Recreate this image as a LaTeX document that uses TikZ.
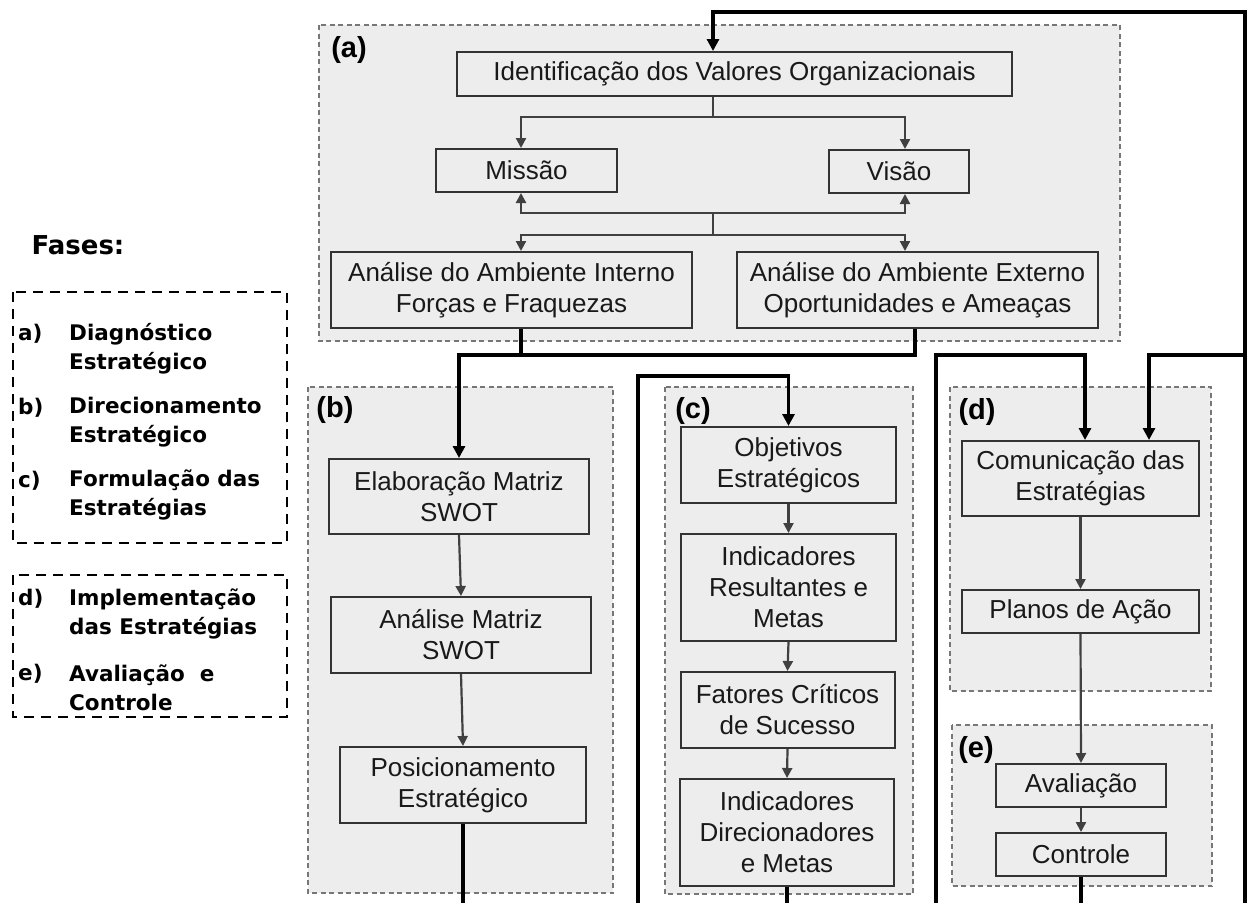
\documentclass[tikz,border=0pt]{standalone}
\usepackage{fontspec}
\setmainfont{Liberation Sans}
\newfontfamily\fontelegenda{DejaVu Sans}
\usetikzlibrary{arrows.meta}
\definecolor{fundo}{HTML}{EDEDED}
\definecolor{borda}{HTML}{333333}
\definecolor{setacinza}{HTML}{404040}
\definecolor{tracejado}{HTML}{777777}

\begin{document}
\begin{tikzpicture}[x=1pt, y=-1pt, line join=miter,
  caixa/.style={draw=borda, line width=2pt, fill=fundo, align=center, inner sep=0pt,
    text=black!90, font=\fontsize{26}{31}\selectfont},
  grupo/.style={draw=tracejado, line width=1.5pt, dash pattern=on 5pt off 3.5pt, fill=fundo},
  rotulo/.style={font=\bfseries\fontsize{29}{30}\selectfont, inner sep=0pt},
  fio/.style={draw=setacinza, line width=2.2pt},
  seta/.style={fio, -{Triangle[length=10pt,width=10pt]}},
  grosso/.style={draw=black, line width=3.5pt},
  grossoseta/.style={grosso, -{Triangle[length=12pt,width=12pt]}},
  legenda/.style={font=\fontelegenda\bfseries\fontsize{21.5}{29}\selectfont,
    align=left, inner sep=0pt, anchor=west},
  moldura/.style={draw=black, line width=2.5pt, dash pattern=on 10pt off 7pt}]

  \useasboundingbox (0,0) rectangle (1249,903);

  % legenda
  \node[font=\fontelegenda\bfseries\fontsize{26}{30}\selectfont, inner sep=0pt] (fases) at (78,245) {Fases:};
  \draw[moldura] (13,292) rectangle (287,543);
  \draw[moldura] (13,575) rectangle (287,717);
  \node[legenda] (la) at (18,334) {a)};
  \node[legenda] (ta) at (69,348.5) {Diagnóstico\\Estratégico};
  \node[legenda] (lb) at (18,408) {b)};
  \node[legenda] (tb) at (69,422) {Direcionamento\\Estratégico};
  \node[legenda] (lc) at (18,481) {c)};
  \node[legenda] (tc) at (69,495) {Formulação das\\Estratégias};
  \node[legenda] (ld) at (18,599) {d)};
  \node[legenda] (td) at (69,613.5) {Implementação\\das Estratégias};
  \node[legenda] (le) at (18,674) {e)};
  \node[legenda] (te) at (69,687.5) {Avaliação\ \ e\\Controle};

  % grupos
  \draw[grupo] (319,25) rectangle (1120,341);
  \draw[grupo] (308,387) rectangle (613,893);
  \draw[grupo] (665,387) rectangle (913,894);
  \draw[grupo] (950,387) rectangle (1211,691);
  \draw[grupo] (952,725) rectangle (1212,886);
  \node[rotulo] (ga) at (349,50) {(a)};
  \node[rotulo] (gb) at (335,410) {(b)};
  \node[rotulo] (gc) at (693,411) {(c)};
  \node[rotulo] (gd) at (977,412) {(d)};
  \node[rotulo] (ge) at (976,750) {(e)};

  % (a) diagnostico
  \node[caixa, minimum width=555pt, minimum height=44pt] (iden) at (734.5,74) {Identificação dos Valores Organizacionais};
  \node[caixa, minimum width=181pt, minimum height=43pt] (missao) at (526.5,170.5) {Missão};
  \node[caixa, minimum width=140pt, minimum height=43pt] (visao) at (899,171.5) {Visão};
  \node[caixa, minimum width=361pt, minimum height=76pt] (interno) at (511.5,290) {Análise do Ambiente Interno\\Forças e Fraquezas};
  \node[caixa, minimum width=361pt, minimum height=76pt] (externo) at (917.5,290) {Análise do Ambiente Externo\\Oportunidades e Ameaças};

  % (b) direcionamento
  \node[caixa, minimum width=260pt, minimum height=75pt] (elab) at (459,496.5) {Elaboração Matriz\\SWOT};
  \node[caixa, minimum width=260pt, minimum height=76pt] (anmat) at (461,635) {Análise Matriz\\SWOT};
  \node[caixa, minimum width=246pt, minimum height=76pt] (posic) at (463,785) {Posicionamento\\Estratégico};

  % (c) formulacao
  \node[caixa, minimum width=215pt, minimum height=76pt] (objet) at (788.5,465) {Objetivos\\Estratégicos};
  \node[caixa, minimum width=215pt, minimum height=107pt] (indres) at (788.5,587.5) {Indicadores\\Resultantes e\\Metas};
  \node[caixa, minimum width=214pt, minimum height=76pt] (fatores) at (787.5,710) {Fatores Críticos\\de Sucesso};
  \node[caixa, minimum width=214pt, minimum height=107pt] (inddir) at (787,832.5) {Indicadores\\Direcionadores\\e Metas};

  % (d) implementacao e (e) avaliacao
  \node[caixa, minimum width=237pt, minimum height=75pt] (comunic) at (1080.5,478.5) {Comunicação das\\Estratégias};
  \node[caixa, minimum width=237pt, minimum height=43pt] (planos) at (1080.5,611.5) {Planos de Ação};
  \node[caixa, minimum width=170pt, minimum height=43pt] (aval) at (1081,785.5) {Avaliação};
  \node[caixa, minimum width=170pt, minimum height=43pt] (controle) at (1081,854.5) {Controle};

  % pontos de apoio
  \coordinate (xm) at (521,0);
  \coordinate (xv) at (905,0);
  \coordinate (xe) at (915,0);
  \coordinate (xd1) at (1085,0);
  \coordinate (xd2) at (1149,0);
  \coordinate (r1) at (713,117);
  \coordinate (r2) at (713,213);
  \coordinate (r3) at (713,235);
  \coordinate (topo) at (0,12);
  \coordinate (meio) at (0,355);
  \coordinate (meioc) at (0,376);
  \coordinate (base) at (0,903);
  \coordinate (cesq) at (638,903);
  \coordinate (desq) at (936,903);
  \coordinate (ddir) at (1245,903);

  % ligacoes em (a)
  \draw[fio] (iden.south -| r1) -- (r1);
  \draw[seta] (r1) -| (missao.north -| xm);
  \draw[seta] (r1) -| (visao.north -| xv);
  \draw[seta] (r2) -| (missao.south -| xm);
  \draw[seta] (r2) -| (visao.south -| xv);
  \draw[fio] (r2) -- (r3);
  \draw[seta] (r3) -| (interno.north -| xm);
  \draw[seta] (r3) -| (externo.north -| xv);

  % ligacoes nas colunas
  \draw[seta] (elab.south) -- (anmat.north);
  \draw[seta] (anmat.south) -- (posic.north);
  \draw[seta] (objet.south) -- (indres.north);
  \draw[seta] (indres.south) -- (fatores.north);
  \draw[seta] (fatores.south) -- (inddir.north);
  \draw[seta] (comunic.south) -- (planos.north);
  \draw[seta] (planos.south) -- (aval.north);
  \draw[seta] (aval.south) -- (controle.north);

  % fluxo principal
  \draw[grosso] (interno.south -| xm) -- (xm |- meio);
  \draw[grossoseta] (externo.south -| xe) |- (elab.north |- meio) -- (elab.north);
  \draw[grossoseta] (cesq) |- (objet.north |- meioc) -- (objet.north);
  \draw[grossoseta] (desq) |- (xd1 |- meio) -- (comunic.north -| xd1);
  \draw[grossoseta] (ddir) |- (r1 |- topo) -- (iden.north -| r1);
  \draw[grossoseta] (ddir |- meio) -| (comunic.north -| xd2);
  \draw[grosso] (posic.south) -- (posic.south |- base);
  \draw[grosso] (inddir.south) -- (inddir.south |- base);
  \draw[grosso] (controle.south) -- (controle.south |- base);
\end{tikzpicture}
\end{document}
